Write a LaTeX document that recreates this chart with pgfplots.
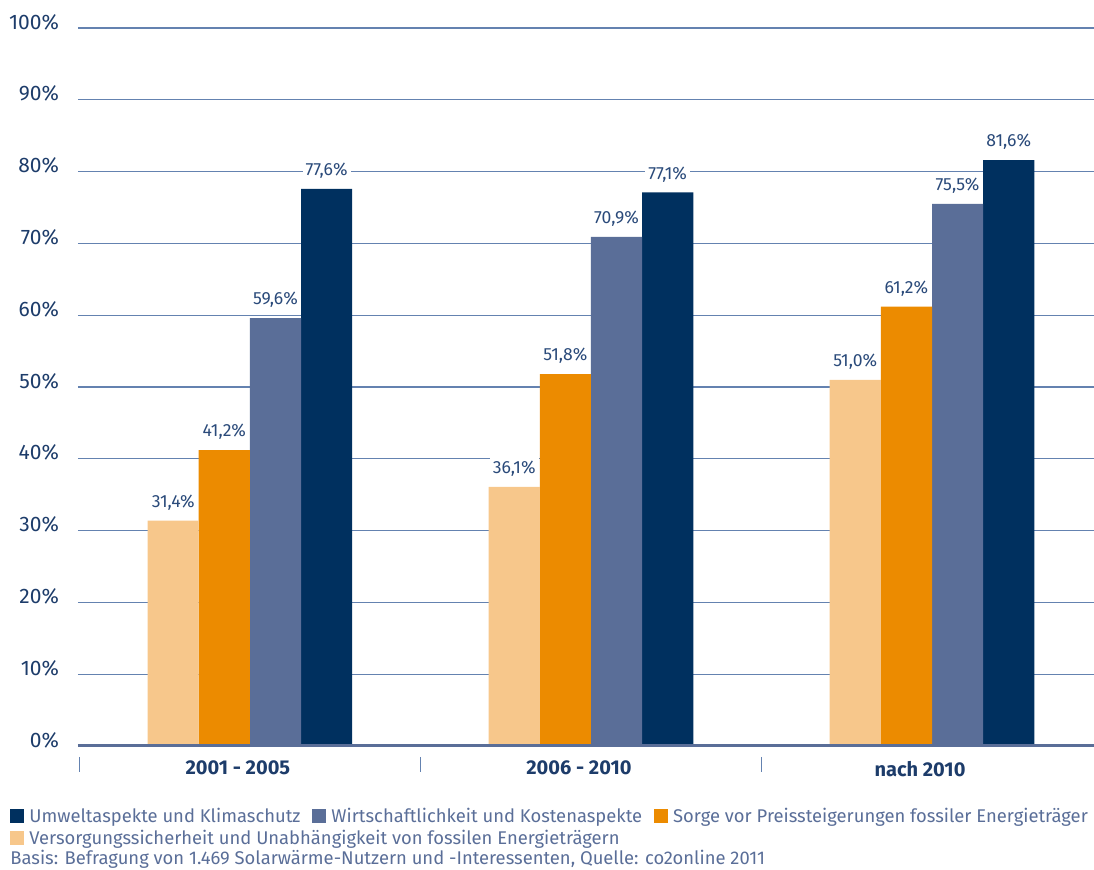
\documentclass[border=0pt]{standalone}
\usepackage{pgfplots}
\pgfplotsset{compat=1.18}
\usepackage{fontspec}
\setmainfont{Fira Sans}
\definecolor{cnavy}{HTML}{00305F}
\definecolor{cslate}{HTML}{5A6E98}
\definecolor{corange}{HTML}{EC8B00}
\definecolor{clight}{HTML}{F7C78B}
\definecolor{cgrid}{HTML}{6482B0}
\definecolor{ctext}{HTML}{1D3C6A}
\definecolor{clab}{HTML}{2A4A7A}
\newcommand{\sq}[1]{\textcolor{#1}{\rule[-0.2pt]{7pt}{7pt}}\hspace{2.5pt}}
\begin{document}
\begin{tikzpicture}
\path[use as bounding box] (-39pt,-62pt) rectangle (508pt,373pt);
\begin{axis}[
  scale only axis, width=508pt, height=359pt,
  xmin=-0.504, xmax=2.475, ymin=0, ymax=100,
  clip=false,
  axis line style={draw=none},
  major tick length=0pt,
  ytick={0,10,...,100},
  yticklabel={\pgfmathprintnumber[assume math mode=true]{\tick}\%},
  yticklabel style={font=\fontsize{10.5}{12}\selectfont, text=ctext, anchor=east, xshift=-6pt, yshift=3pt},
  ymajorgrids, grid style={cgrid, line width=0.65pt},
  xtick={0,1,2},
  xticklabels={2001 - 2005, 2006 - 2010, nach 2010},
  xticklabel style={font=\fontsize{10}{12}\selectfont\bfseries, text=ctext, yshift=-4pt, xshift=-6pt},
  ybar, bar width=0.15,
  nodes near coords={\pgfmathprintnumber[fixed, fixed zerofill, precision=1, use comma, assume math mode=true]{\pgfplotspointmeta}\%},
  every node near coord/.append style={font=\fontsize{8.8}{10}\selectfont, text=clab, fill=white, inner sep=1.5pt, yshift=3.5pt},
]
\addplot[fill=cnavy, draw=none, bar shift=0.225] coordinates {(0,77.6) (1,77.1) (2,81.6)};
\addplot[fill=cslate, draw=none, bar shift=0.075] coordinates {(0,59.6) (1,70.9) (2,75.5)};
\addplot[fill=corange, draw=none, bar shift=-0.075] coordinates {(0,41.2) (1,51.8) (2,61.2)};
\addplot[fill=clight, draw=none, bar shift=-0.225] coordinates {(0,31.4) (1,36.1) (2,51.0)};
\draw[cslate, line width=1.5pt] (axis cs:-0.504,0) -- (axis cs:2.475,0);
\draw[cgrid, line width=0.8pt] ([yshift=-5.5pt]axis cs:-0.5,0) -- ([yshift=-13pt]axis cs:-0.5,0);
\draw[cgrid, line width=0.8pt] ([yshift=-5.5pt]axis cs:0.5,0) -- ([yshift=-13pt]axis cs:0.5,0);
\draw[cgrid, line width=0.8pt] ([yshift=-5.5pt]axis cs:1.5,0) -- ([yshift=-13pt]axis cs:1.5,0);
\end{axis}
\begin{scope}[every node/.style={anchor=base west, inner sep=0pt, font=\fontsize{9.2}{11}\selectfont, text=cslate}]
\node at (-34pt,-38.5pt) {\sq{cnavy}Umweltaspekte und Klimaschutz\hspace{6pt}\sq{cslate}Wirtschaftlichkeit und Kostenaspekte\hspace{6pt}\sq{corange}Sorge vor Preissteigerungen fossiler Energieträger};
\node at (-34pt,-49.3pt) {\sq{clight}Versorgungssicherheit und Unabhängigkeit von fossilen Energieträgern};
\node at (-34pt,-59.3pt) {Basis: Befragung von 1.469 Solarwärme-Nutzern und -Interessenten, Quelle: co2online 2011};
\end{scope}
\end{tikzpicture}
\end{document}
